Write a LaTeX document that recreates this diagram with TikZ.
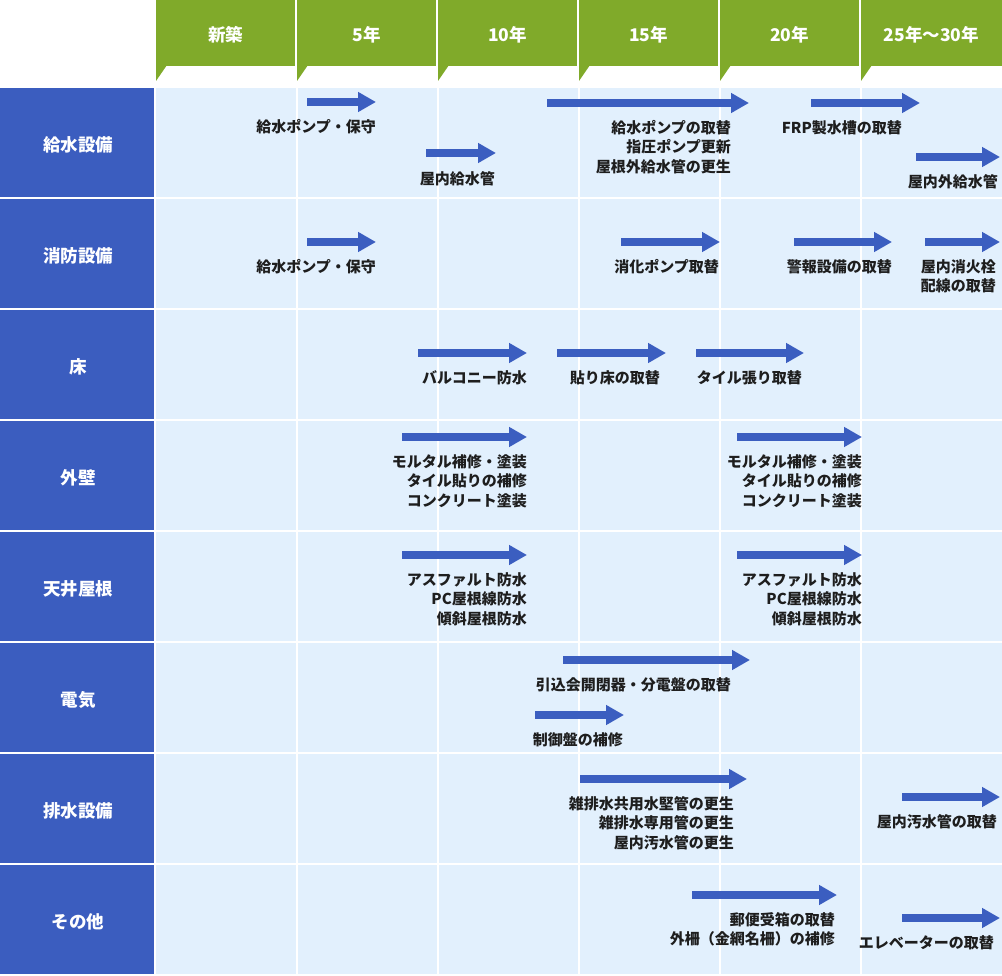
\documentclass[tikz,border=0pt]{standalone}
\usepackage{fontspec}
\newfontfamily\jp{Noto Sans CJK JP}
\usetikzlibrary{arrows.meta}
\definecolor{hdrgreen}{HTML}{80AA2A}
\definecolor{rowblue}{HTML}{3B5DBF}
\definecolor{cellblue}{HTML}{E2F0FD}
\definecolor{barblue}{HTML}{3B5EC0}
\definecolor{txt}{HTML}{1E1E1E}
\begin{document}
\begin{tikzpicture}[x=1pt,y=-1pt,
 hdrtext/.style={text=white,font=\jp\bfseries\fontsize{17.5}{19}\selectfont,inner sep=0},
 rowlab/.style={text=white,font=\jp\bfseries\fontsize{17.5}{20}\selectfont,inner sep=0},
 bar/.style={line width=8pt,draw=barblue,-{Triangle[length=18pt,width=19pt]}},
 lbl/.style={text=txt,font=\jp\bfseries\fontsize{15}{19.5}\selectfont,align=right,anchor=north east,inner sep=0},
]
\useasboundingbox (0,0) rectangle (1002,976);
\fill[white] (0,0) rectangle (1002,976);
% header tabs
\foreach \x/\t/\n [count=\i] in {156/新築/h1,297/5年/h2,438/10年/h3,579/15年/h4,720/20年/h5,861/25年〜30年/h6}{
  \pgfmathsetmacro\xe{\i==6 ? 1002 : \x+139}
  \fill[hdrgreen] (\x,0) rectangle (\xe,66);
  \fill[hdrgreen] (\x,65) -- (\x+11,65) -- (\x,81) -- cycle;
  \node[hdrtext] (\n) at ({(\x+\xe)/2},35) {\t};
}
% rows
\foreach \t/\n [count=\i from 0] in {給水設備/r1,消防設備/r2,床/r3,外壁/r4,天井屋根/r5,電気/r6,排水設備/r7,その他/r8}{
  \pgfmathsetmacro\yt{88+111*\i}
  \fill[rowblue] (0,\yt) rectangle (154,\yt+109);
  \fill[cellblue] (156,\yt) rectangle (1002,\yt+109);
  \node[rowlab] (\n) at (78,\yt+57) {\t};
}
\foreach \x in {296.5,437.5,578.5,719.5,860.5}{
  \fill[white] (\x-1,88) rectangle (\x+1,976);
}
% ---- 給水設備
\coordinate (a1s) at (307,102); \coordinate (a1e) at (376,102);
\draw[bar] (a1s) -- (a1e);
\node[lbl] (l1) at (376,119) {給水ポンプ・保守};
\coordinate (a2s) at (426,153); \coordinate (a2e) at (496,153);
\draw[bar] (a2s) -- (a2e);
\node[lbl] (l2) at (495,171) {屋内給水管};
\coordinate (a3s) at (547,103); \coordinate (a3e) at (749,103);
\draw[bar] (a3s) -- (a3e);
\node[lbl] (l3) at (731,120) {給水ポンプの取替\\指圧ポンプ更新\\屋根外給水管の更生};
\coordinate (a4s) at (811,103); \coordinate (a4e) at (920,103);
\draw[bar] (a4s) -- (a4e);
\node[lbl] (l4) at (902,120) {FRP製水槽の取替};
\coordinate (a5s) at (916,157); \coordinate (a5e) at (1000,157);
\draw[bar] (a5s) -- (a5e);
\node[lbl] (l5) at (998,174) {屋内外給水管};
% ---- 消防設備
\coordinate (b1s) at (307,242); \coordinate (b1e) at (376,242);
\draw[bar] (b1s) -- (b1e);
\node[lbl] (m1) at (376,259) {給水ポンプ・保守};
\coordinate (b2s) at (621,242); \coordinate (b2e) at (720,242);
\draw[bar] (b2s) -- (b2e);
\node[lbl] (m2) at (719,259) {消化ポンプ取替};
\coordinate (b3s) at (794,242); \coordinate (b3e) at (892,242);
\draw[bar] (b3s) -- (b3e);
\node[lbl] (m3) at (892,259) {警報設備の取替};
\coordinate (b4s) at (925,242); \coordinate (b4e) at (1000,242);
\draw[bar] (b4s) -- (b4e);
\node[lbl] (m4) at (996,259) {屋内消火栓\\配線の取替};
% ---- 床
\coordinate (c1s) at (418,353); \coordinate (c1e) at (527,353);
\draw[bar] (c1s) -- (c1e);
\node[lbl] (n1) at (527,370) {バルコニー防水};
\coordinate (c2s) at (557,353); \coordinate (c2e) at (666,353);
\draw[bar] (c2s) -- (c2e);
\node[lbl] (n2) at (660,370) {貼り床の取替};
\coordinate (c3s) at (696,353); \coordinate (c3e) at (804,353);
\draw[bar] (c3s) -- (c3e);
\node[lbl] (n3) at (802,370) {タイル張り取替};
% ---- 外壁
\coordinate (d1s) at (402,437); \coordinate (d1e) at (527,437);
\draw[bar] (d1s) -- (d1e);
\node[lbl] (o1) at (527,454) {モルタル補修・塗装\\タイル貼りの補修\\コンクリート塗装};
\coordinate (d2s) at (737,437); \coordinate (d2e) at (862,437);
\draw[bar] (d2s) -- (d2e);
\node[lbl] (o2) at (862,454) {モルタル補修・塗装\\タイル貼りの補修\\コンクリート塗装};
% ---- 天井屋根
\coordinate (e1s) at (402,555); \coordinate (e1e) at (527,555);
\draw[bar] (e1s) -- (e1e);
\node[lbl] (p1) at (527,572) {アスファルト防水\\PC屋根線防水\\傾斜屋根防水};
\coordinate (e2s) at (737,555); \coordinate (e2e) at (862,555);
\draw[bar] (e2s) -- (e2e);
\node[lbl] (p2) at (862,572) {アスファルト防水\\PC屋根線防水\\傾斜屋根防水};
% ---- 電気
\coordinate (f1s) at (563,660); \coordinate (f1e) at (750,660);
\draw[bar] (f1s) -- (f1e);
\node[lbl] (q1) at (731,677) {引込会開閉器・分電盤の取替};
\coordinate (f2s) at (535,715); \coordinate (f2e) at (624,715);
\draw[bar] (f2s) -- (f2e);
\node[lbl] (q2) at (623,732) {制御盤の補修};
% ---- 排水設備
\coordinate (g1s) at (580,779); \coordinate (g1e) at (747,779);
\draw[bar] (g1s) -- (g1e);
\node[lbl] (s1) at (734,796) {雑排水共用水堅管の更生\\雑排水専用管の更生\\屋内汚水管の更生};
\coordinate (g2s) at (902,797); \coordinate (g2e) at (1000,797);
\draw[bar] (g2s) -- (g2e);
\node[lbl] (s2) at (997,814) {屋内汚水管の取替};
% ---- その他
\coordinate (k1s) at (692,895); \coordinate (k1e) at (837,895);
\draw[bar] (k1s) -- (k1e);
\node[lbl] (t1) at (835,912) {郵便受箱の取替\\外柵（金網名柵）の補修};
\coordinate (k2s) at (902,918); \coordinate (k2e) at (1000,918);
\draw[bar] (k2s) -- (k2e);
\node[lbl] (t2) at (994,935) {エレベーターの取替};
\end{tikzpicture}
\end{document}
